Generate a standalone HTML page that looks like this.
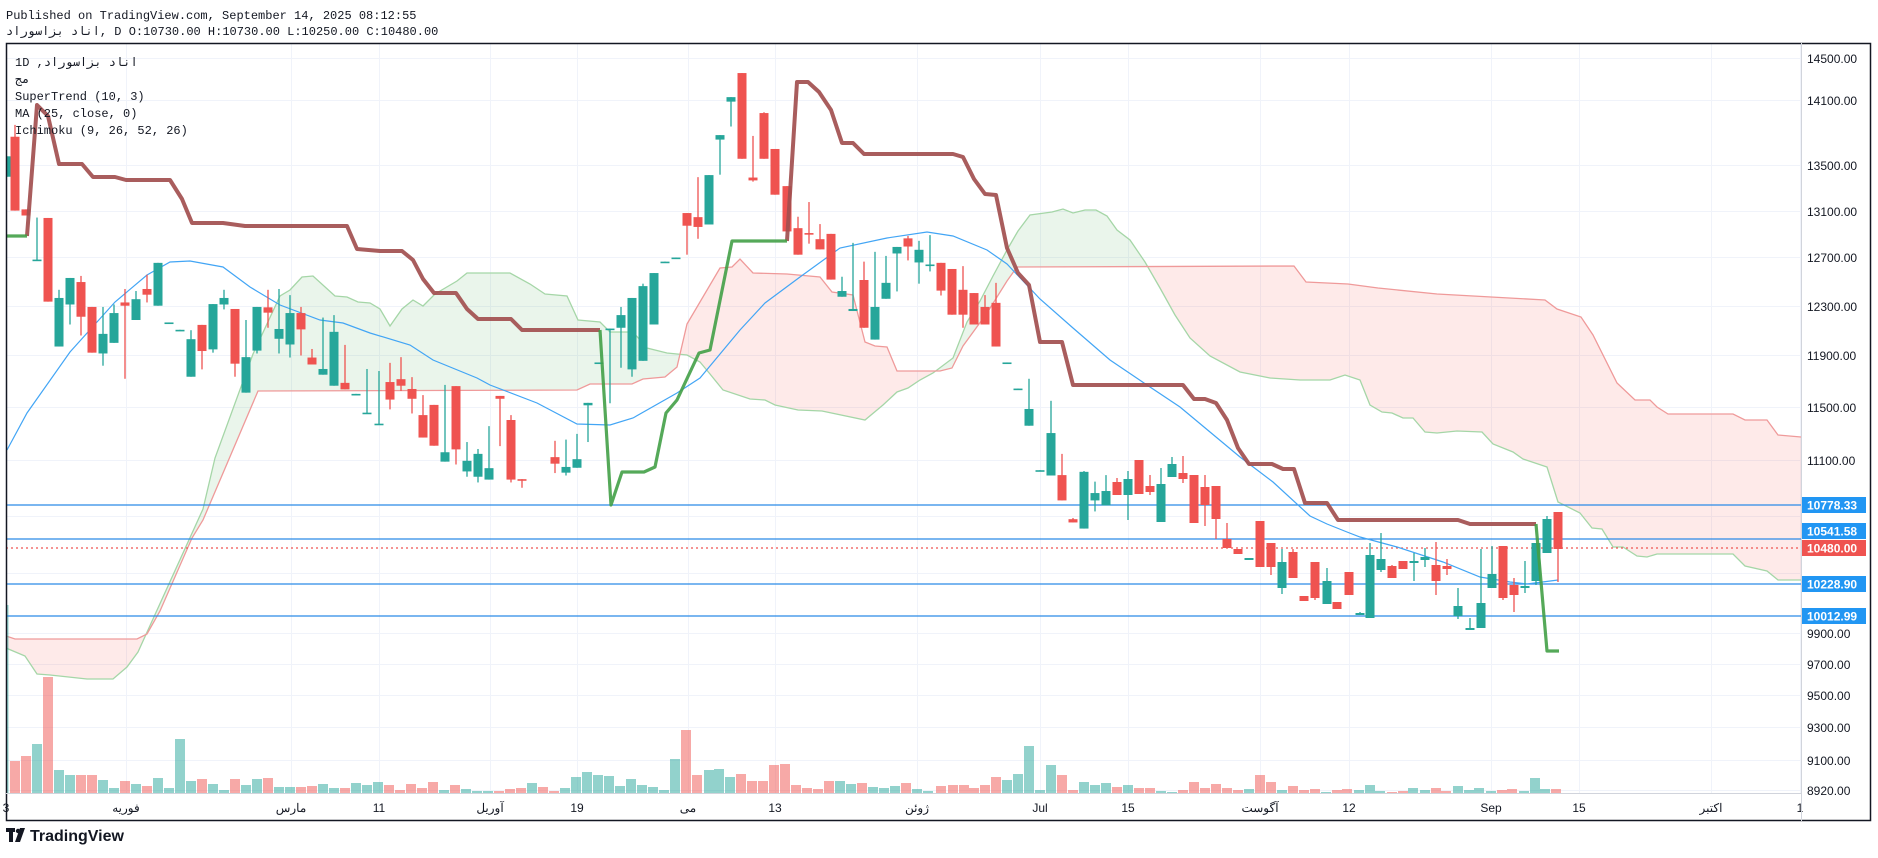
<!DOCTYPE html>
<html><head><meta charset="utf-8"><style>
html,body{margin:0;padding:0;background:#fff;width:1878px;height:858px;overflow:hidden}
svg{display:block}
</style></head><body>
<svg id="s" width="1878" height="858" xmlns="http://www.w3.org/2000/svg" font-family="Liberation Sans, Noto Sans CJK SC, sans-serif">
<defs><clipPath id="c"><rect x="6" y="43" width="1795" height="750"/></clipPath></defs>
<g id="grid"></g>
<g clip-path="url(#c)">
<g id="cloud"></g>
<g id="vol"></g>
<g id="lines"></g>
<g id="cand"></g>
<g id="st"></g>
</g>
<g id="ax"></g>
<rect x="6.5" y="43.5" width="1864" height="777" fill="none" stroke="#131722" stroke-width="1.5"/>
<line x1="1801.5" y1="43" x2="1801.5" y2="821" stroke="#d1d4dc"/>
<line x1="6" y1="793.5" x2="1801" y2="793.5" stroke="#d1d4dc"/>
<g font-family="Liberation Mono, Noto Sans CJK SC, monospace" font-size="12" fill="#131722">
<text x="6" y="19">Published on TradingView.com, September 14, 2025 08:12:55</text>
<text x="6" y="35">اناد بزاسوراد, D O:10730.00 H:10730.00 L:10250.00 C:10480.00</text>
<text x="15" y="66">1D ,اناد بزاسوراد</text>
<text x="15" y="83">مج</text>
<text x="15" y="100">SuperTrend (10, 3)</text>
<text x="15" y="117">MA (25, close, 0)</text>
<text x="15" y="134">Ichimoku (9, 26, 52, 26)</text>
</g>
<g transform="translate(6,828)"><rect x="0" y="0" width="9" height="4" fill="#131722"/><rect x="3" y="0" width="4" height="14" fill="#131722"/><path d="M9 14 L14 0 L19 0 L14 14Z" fill="#131722"/><circle cx="12" cy="3" r="2.2" fill="#131722"/><text x="24" y="13" font-size="16" font-weight="bold" fill="#131722">TradingView</text></g>
</svg>
<script>
const NS="http://www.w3.org/2000/svg";
function el(p,t,a,txt){const e=document.createElementNS(NS,t);for(const k in a)e.setAttribute(k,a[k]);if(txt!==undefined)e.textContent=txt;document.getElementById(p).appendChild(e);return e;}
const yP=p=>407+(Math.log(11500)-Math.log(p))*1507;
const prices=[14500,14100,13500,13100,12700,12300,11900,11500,11100,10700,10300,9900,9700,9500,9300,9100,8920];
prices.forEach(p=>{const y=Math.round(yP(p))+.5;el('grid','line',{x1:6,x2:1801,y1:y,y2:y,stroke:'#f0f3fa'});
 if(p!==10700&&p!==10300) el('ax','text',{x:1807,y:y+4.5,'font-size':12,fill:'#131722'},p.toFixed(2));});
const dates=[[6,'3'],[126,'فوریه'],[291,'مارس'],[379,'11'],[490,'آوریل'],[577,'19'],[688,'می'],[775,'13'],[917,'ژوئن'],[1040,'Jul'],[1128,'15'],[1260,'آگوست'],[1349,'12'],[1491,'Sep'],[1579,'15'],[1711,'اکتبر'],[1800,'1']];
dates.forEach(([x,t])=>{el('grid','line',{x1:x+.5,x2:x+.5,y1:43,y2:793,stroke:'#f0f3fa'});
 el('ax','text',{x:x,y:812,'font-size':12,fill:'#131722','text-anchor':'middle'},t);});
const A=[[6,648],[25,656],[37,674],[50,675],[87,679],[113,679],[127,667],[138,652],[203,509],[215,458],[253,354],[280,296],[290,290],[302,277],[313,276],[335,296],[347,297],[358,302],[370,303],[380,309],[390,326],[402,309],[413,300],[423,306],[435,294],[457,281],[467,273],[510,273],[530,284],[545,294],[567,296],[578,320],[600,322],[610,332],[633,332],[647,348],[667,353],[687,355],[700,362],[710,374],[723,390],[750,399],[765,400],[775,405],[798,410],[822,411],[865,420],[883,405],[897,392],[908,388],[920,380],[933,373],[953,358],[967,322],[980,301],[993,276],[1007,250],[1018,231],[1030,215],[1052,212],[1063,209],[1073,213],[1085,210],[1096,210],[1107,216],[1117,230],[1130,240],[1145,262],[1160,288],[1175,315],[1190,338],[1210,356],[1240,372],[1270,378],[1300,380],[1330,380],[1345,375],[1360,380],[1370,405],[1382,412],[1392,413],[1403,418],[1413,418],[1425,432],[1437,433],[1457,431],[1482,432],[1493,444],[1513,452],[1523,459],[1547,467],[1558,502],[1580,513],[1592,528],[1602,529],[1613,547],[1623,547],[1637,556],[1647,557],[1657,554],[1733,554],[1745,566],[1767,571],[1778,580],[1801,580]];
const B=[[6,636],[15,639],[137,639],[147,634],[160,611],[192,538],[203,520],[258,391],[577,390],[590,384],[632,384],[643,379],[665,377],[677,367],[687,324],[720,268],[732,267],[740,259],[753,273],[787,274],[820,277],[832,292],[853,295],[865,342],[875,346],[887,347],[897,371],[940,371],[952,368],[963,346],[987,313],[1007,281],[1017,267],[1294,266],[1306,282],[1348,284],[1378,288],[1437,294],[1545,300],[1557,309],[1581,317],[1593,335],[1617,383],[1635,400],[1650,400],[1657,407],[1668,414],[1733,414],[1745,420],[1767,420],[1778,435],[1801,437]];
function interp(L,x){for(let i=1;i<L.length;i++){if(x<=L[i][0]){const a=L[i-1],b=L[i];const t=(x-a[0])/(b[0]-a[0]||1);return a[1]+(b[1]-a[1])*t;}}return L[L.length-1][1];}
let cl='';
for(let x=6;x<1801;x++){const ya=interp(A,x+.5),yb=interp(B,x+.5);const top=Math.min(ya,yb),h=Math.abs(ya-yb);
 cl+=`<rect x="${x}" y="${top.toFixed(1)}" width="1" height="${h.toFixed(1)}" fill="${ya<yb?'rgba(67,160,71,0.11)':'rgba(244,67,54,0.11)'}"/>`;}
document.getElementById('cloud').innerHTML=cl;
const pts=L=>L.map(p=>p.join(',')).join(' ');
el('cloud','polyline',{points:pts(A),fill:'none',stroke:'#a5d6a7','stroke-width':1.3});
el('cloud','polyline',{points:pts(B),fill:'none',stroke:'#ef9a9a','stroke-width':1.3});
[505,539,584,616].forEach(y=>el('lines','line',{x1:6,x2:1801,y1:y,y2:y,stroke:'#2a8ae8','stroke-width':1.3}));
el('lines','line',{x1:6,x2:1801,y1:548,y2:548,stroke:'#ef5350','stroke-width':1.2,'stroke-dasharray':'2,3'});
const MA=[[7,450],[27,413],[70,352],[115,302],[147,275],[170,262],[190,261],[223,267],[250,287],[280,305],[320,320],[343,323],[370,333],[410,345],[433,360],[477,378],[490,385],[537,403],[577,424],[610,425],[633,418],[677,393],[700,378],[740,330],[765,303],[800,277],[840,248],[887,238],[927,232],[953,236],[987,250],[1007,264],[1040,299],[1073,328],[1110,360],[1147,385],[1180,407],[1210,432],[1240,457],[1273,482],[1310,516],[1327,524],[1347,532],[1360,537],[1397,547],[1443,562],[1480,577],[1510,582],[1527,584],[1558,580]];
el('lines','polyline',{points:pts(MA),fill:'none',stroke:'#42a5f5','stroke-width':1.2});
const V=[[15,761,0],[26,756,0],[37,744,1],[48,677,0],[59,770,1],[70,775,1],[81,775,0],[92,775,0],[103,780,1],[114,788,1],[125,781,0],[136,784,1],[147,786,0],[158,778,1],[169,788,1],[180,739,1],[191,781,1],[202,779,0],[213,784,1],[224,790,1],[235,779,0],[246,785,1],[257,779,1],[268,778,0],[279,787,1],[290,787,1],[301,787,0],[312,786,0],[323,784,1],[334,788,1],[345,788,0],[356,783,1],[367,785,1],[378,782,1],[389,785,0],[400,790,0],[411,784,0],[422,788,0],[433,782,0],[444,790,1],[455,785,0],[466,789,1],[477,791,1],[488,791,1],[499,791,0],[510,789,0],[521,788,0],[532,783,1],[543,787,0],[554,791,0],[565,788,1],[576,777,1],[587,772,1],[598,775,1],[609,776,1],[620,786,1],[631,779,1],[642,785,1],[653,787,1],[664,790,1],[675,759,1],[686,730,0],[697,775,0],[709,770,1],[719,769,1],[730,777,1],[741,774,0],[752,781,0],[763,781,0],[774,765,0],[785,764,0],[796,785,0],[807,788,0],[818,789,0],[829,781,0],[840,781,1],[851,784,1],[862,783,0],[873,787,1],[884,788,1],[895,786,1],[906,783,0],[917,789,1],[928,791,1],[941,786,0],[953,785,0],[964,785,0],[974,788,0],[985,785,0],[996,777,0],[1007,780,1],[1018,774,1],[1029,746,1],[1040,790,1],[1051,765,1],[1062,775,0],[1073,790,0],[1084,782,1],[1095,785,1],[1106,783,1],[1117,787,0],[1128,785,1],[1139,788,0],[1150,788,0],[1161,791,1],[1172,792,1],[1183,790,0],[1194,782,0],[1205,788,0],[1216,784,0],[1227,788,0],[1238,790,0],[1249,789,1],[1260,775,0],[1271,782,0],[1282,790,1],[1293,786,0],[1304,790,0],[1315,789,0],[1326,792,1],[1337,790,0],[1347,789,0],[1359,790,1],[1370,785,1],[1380,791,1],[1392,792,0],[1403,791,0],[1413,788,1],[1425,790,1],[1436,788,0],[1446,791,0],[1458,786,1],[1469,790,1],[1479,788,1],[1491,791,1],[1502,790,0],[1512,789,0],[1524,791,1],[1535,778,1],[1545,789,1],[1556,789,0]];
let vh='<rect x="6" y="605" width="2.5" height="188" fill="rgba(38,166,154,0.5)"/>';
V.forEach(([x,t,c])=>{vh+=`<rect x="${x-5}" y="${t}" width="10" height="${793-t}" fill="${c?'rgba(38,166,154,0.5)':'rgba(239,83,80,0.5)'}"/>`;});
document.getElementById('vol').innerHTML=vh;
const P=[[7,285,335,285,335,1],[15,237,418,208,418,0],[26,415,430,415,430,0],[37,538,541,435,541,1],[48,436,641,436,641,0],[59,632,751,612,751,1],[70,583,648,583,697,1],[81,593,678,578,724,0],[92,654,766,654,766,0],[103,720,768,654,798,1],[114,669,742,648,742,1],[125,643,651,610,830,0],[136,635,686,615,686,1],[147,610,624,575,643,0],[158,546,651,546,651,1],[169,692,695,692,695,1],[180,710,713,710,713,1],[191,733,825,711,825,1],[202,698,762,698,807,0],[213,647,758,647,766,1],[224,632,648,612,660,1],[235,659,793,659,825,0],[246,777,864,686,864,1],[257,654,761,654,768,1],[268,655,668,612,705,0],[279,708,732,610,768,1],[290,669,746,625,778,1],[301,669,709,654,773,0],[312,778,795,757,795,0],[323,806,820,680,820,1],[334,715,847,674,847,1],[345,840,856,747,856,0],[356,867,870,867,870,1],[367,913,916,806,916,1],
[379,940,943,811,943,1],[390,838,881,791,905,0],[401,831,847,777,860,0],[412,855,879,826,915,0],[423,919,974,870,974,0],[434,894,994,894,994,0],[445,1010,1033,845,1033,1],[456,848,1003,848,1040,0],[467,1031,1057,985,1070,1],[478,1014,1070,1002,1084,1],[489,1049,1077,946,1077,1],[500,872,879,872,995,0],[511,931,1077,919,1084,0],[522,1076,1079,1076,1097,0],[555,1022,1038,982,1061,0],[566,1046,1060,979,1067,1],[577,1027,1048,965,1048,1],[588,889,895,889,985,1],[599,790,793,790,793,1],[610,707,710,707,890,1],[621,674,705,654,803,1],[632,632,807,632,825,1],[643,603,786,597,786,1],[654,571,697,571,697,1],[665,543,546,543,546,1],[676,533,536,533,536,1],[687,424,455,424,526,0],[698,434,458,336,487,0],[709,331,452,331,452,1],[720,233,244,233,330,1],[731,140,151,140,212,1],[742,81,291,81,291,0],
[753,337,344,235,347,0],[764,179,291,177,291,0],[775,267,379,267,379,0],[787,358,469,358,469,0],[798,461,526,433,526,0],[809,473,476,397,499,0],[820,488,513,451,513,0],[831,475,587,475,587,0],[842,615,629,580,629,1],[853,659,664,497,664,1],[864,588,705,543,705,0],[875,654,734,519,734,1],[886,595,634,529,634,1],[897,507,523,507,616,1],[908,486,506,480,540,0],[919,514,545,492,597,1],[930,550,553,478,567,1],[941,546,614,546,626,0],[952,561,673,561,673,0],[963,612,673,554,705,0],[974,620,697,620,697,0],[985,654,697,625,697,0],[996,644,751,595,751,0],[1007,790,793,790,793,1],[1018,854,857,854,857,1],[1029,904,945,830,945,1],[1040,1054,1057,1054,1057,1],[1051,963,1067,884,1067,1],[1062,1066,1128,1014,1128,0],[1073,1174,1182,1171,1182,0],[1084,1058,1197,1056,1197,1],[1095,1110,1128,1082,1155,1],[1106,1105,1140,1066,1140,1]];
const R=[[1117,482,495,478,495,0],[1128,479,495,471,520,1],[1139,460,494,460,494,0],[1150,486,492,475,495,0],[1161,484,522,468,522,1],[1172,464,477,457,477,1],[1183,473,479,456,483,0],[1194,475,523,475,523,0],[1205,487,505,475,526,0],[1216,486,519,486,539,0],[1227,539,548,523,548,0],[1238,549,554,549,554,0],[1249,558,560,558,560,1],[1260,521,567,521,567,0],[1271,543,567,543,575,0],[1282,562,588,549,594,1],[1293,552,578,549,578,0],[1304,596,601,596,601,0],[1315,562,598,562,600,0],[1327,581,604,568,604,1],[1337,602,609,602,609,0],[1349,572,595,572,595,0],[1360,613,615,612,615,1],[1370,555,618,543,618,1],[1381,559,570,533,572,1],[1392,566,578,565,578,0],[1403,561,569,561,569,0],[1414,561,563,553,581,1],[1425,557,560,548,567,1],[1436,565,581,542,595,0],[1447,566,569,559,575,0],[1458,606,616,588,619,1],[1470,628,630,618,630,1],[1481,603,628,549,628,1],[1492,574,588,546,588,1],[1503,546,598,546,600,0],[1514,585,595,578,612,0],[1525,586,588,561,593,1],[1536,543,581,543,585,1],[1547,519,553,516,553,1],[1558,512,549,512,582,0]];
const cv=p=>p/2.45+40;
let ch='';
function cand(x,bt,bb,wt,wb,c){const col=c?'#26a69a':'#ef5350';
 ch+=`<line x1="${x}" x2="${x}" y1="${wt}" y2="${wb}" stroke="${col}" stroke-width="1.3"/>`;
 const h=Math.max(bb-bt,1.6);ch+=`<rect x="${x-4.5}" y="${bt}" width="9" height="${h}" fill="${col}"/>`;}
P.forEach(d=>cand(d[0],cv(d[1]),cv(d[2]),cv(d[3]),cv(d[4]),d[5]));
R.forEach(d=>cand(...d));
document.getElementById('cand').innerHTML=ch;
const red1=[[27,236],[37,105],[48,116],[59,164],[82,164],[93,177],[115,177],[126,180],[170,180],[182,199],[192,223],[223,223],[245,226],[347,226],[357,249],[380,251],[402,251],[413,260],[423,279],[434,293],[456,293],[467,309],[478,319],[511,319],[522,330],[600,330]];
const red2=[[787,241],[797,82],[808,82],[819,92],[831,110],[842,143],[853,143],[864,154],[953,154],[963,157],[974,179],[985,194],[996,195],[1007,248],[1018,273],[1029,285],[1040,342],[1062,342],[1073,385],[1183,385],[1194,399],[1205,399],[1216,403],[1227,420],[1238,448],[1249,464],[1272,464],[1283,469],[1294,469],[1305,503],[1327,503],[1338,520],[1458,520],[1470,524],[1536,524]];
const g1=[[6,236],[27,236]];
const g2=[[600,330],[611,505],[622,472],[644,472],[655,467],[666,413],[677,400],[699,353],[710,350],[732,241],[787,241]];
const g3=[[1536,524],[1547,651],[1559,651]];
[red1,red2].forEach(L=>el('st','polyline',{points:pts(L),fill:'none',stroke:'#a24f4f','stroke-width':4,'stroke-linejoin':'round','stroke-opacity':0.92}));
[g1,g2,g3].forEach(L=>el('st','polyline',{points:pts(L),fill:'none',stroke:'#43a047','stroke-width':3.2,'stroke-linejoin':'round','stroke-opacity':0.9}));
[[505,'10778.33','#2196f3'],[539,'10541.58','#2196f3'],[548,'10480.00','#ef5350'],[584,'10228.90','#2196f3'],[616,'10012.99','#2196f3']].forEach(([y,t,c])=>{
 const yy=(t==='10541.58')?523:(t==='10480.00'?540:y-8);
 el('ax','rect',{x:1802,y:yy,width:64,height:16,fill:c});
 el('ax','text',{x:1807,y:yy+12.5,'font-size':12,'font-weight':'bold',fill:'#fff'},t);});
</script>
</body></html>
